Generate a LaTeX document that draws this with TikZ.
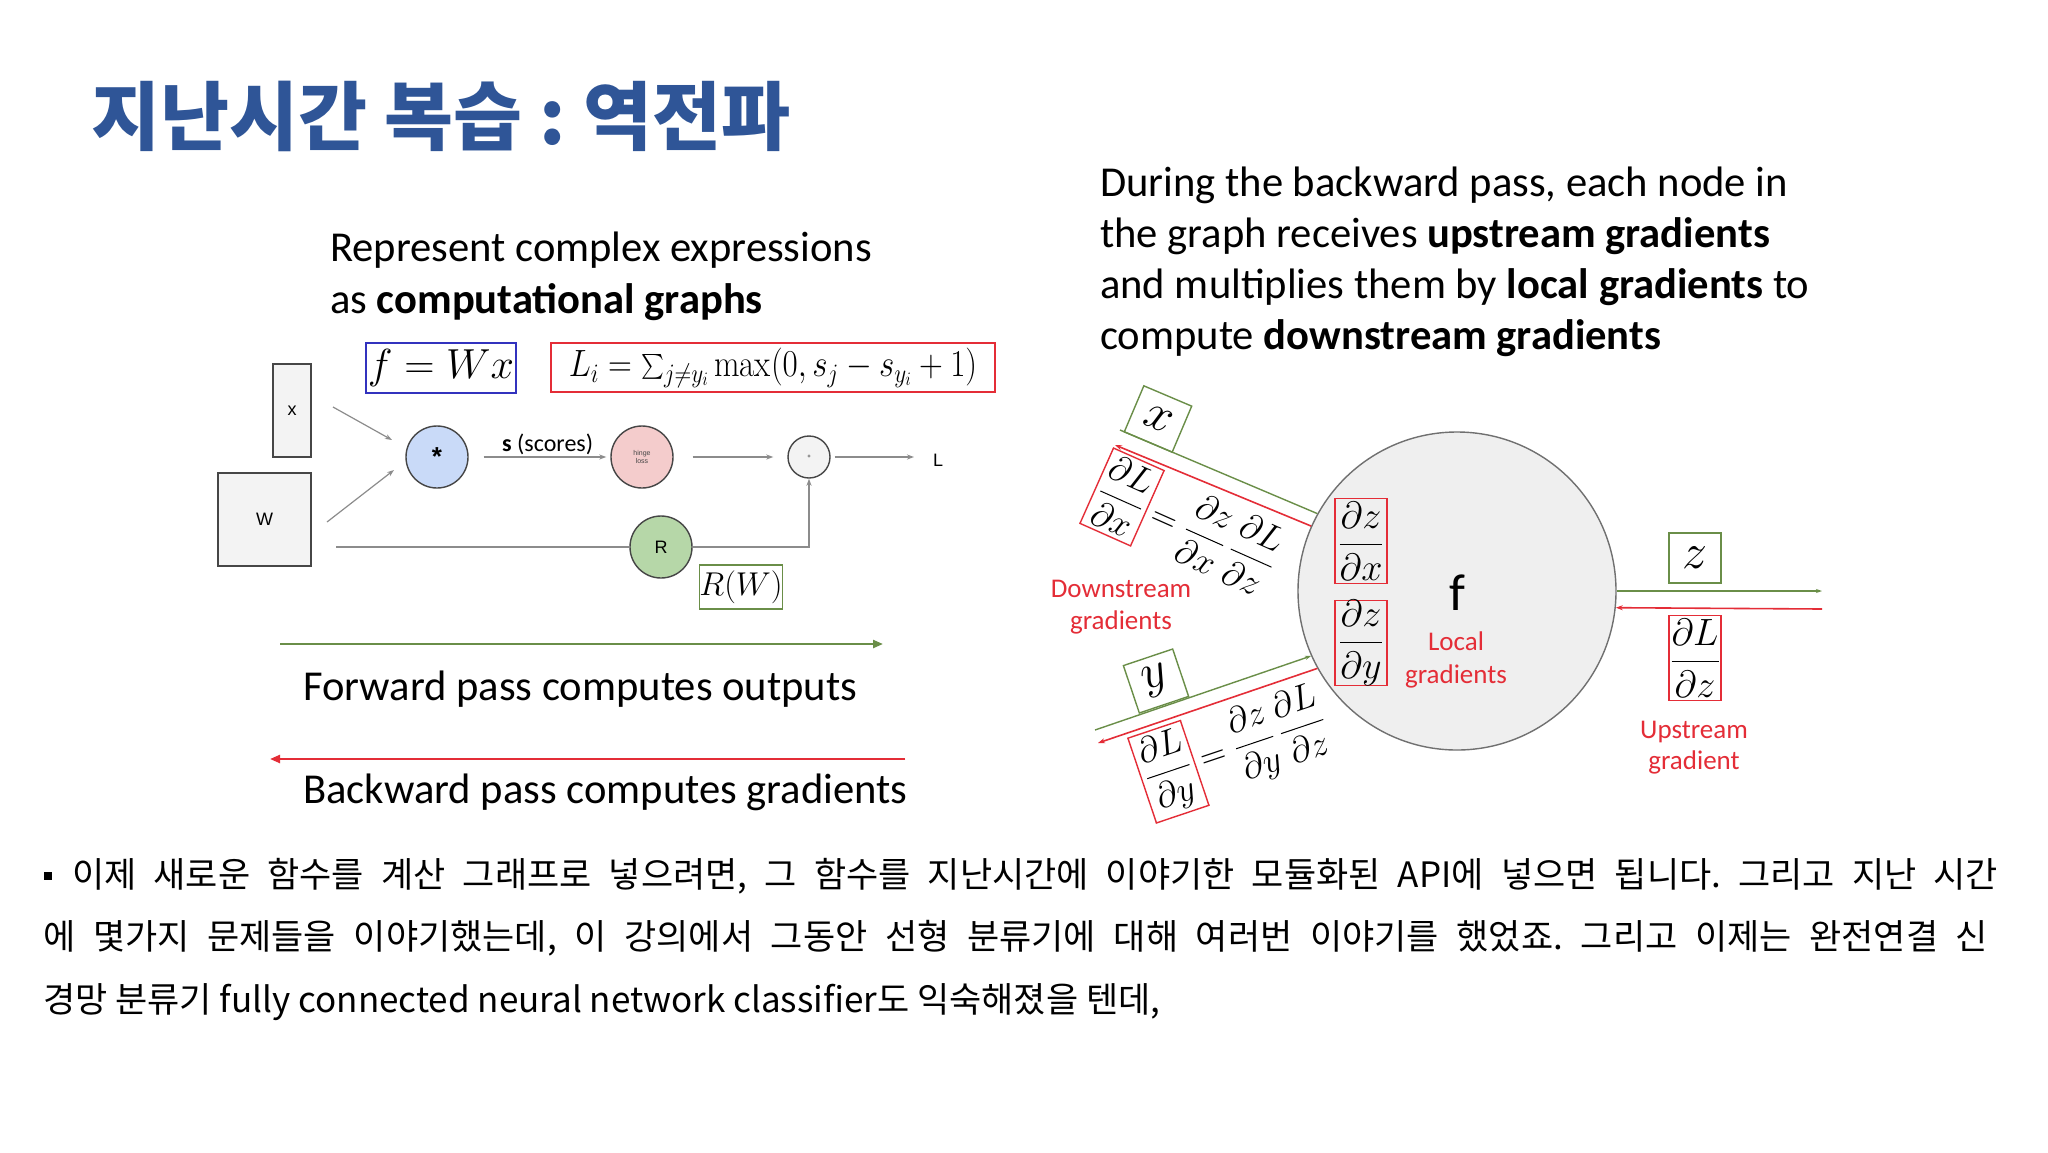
\RequirePackage{fix-cm}
\documentclass[tikz,border=0pt]{standalone}
\usepackage{amsmath}
\usepackage{graphicx}
\usepackage{fontspec}
\newfontfamily\carl{Carlito}
\newfontfamily\ars{Liberation Sans}
\newfontfamily\kr{Noto Sans CJK KR}
\usetikzlibrary{arrows.meta}
\definecolor{tblue}{RGB}{47,85,151}
\definecolor{mred}{RGB}{228,45,55}
\definecolor{mgreen}{RGB}{106,142,72}
\definecolor{fblue}{RGB}{50,50,190}
\definecolor{nodeblue}{RGB}{201,218,248}
\definecolor{nodepink}{RGB}{244,204,204}
\definecolor{nodegreen}{RGB}{182,215,168}
\definecolor{nodegray}{RGB}{243,243,243}
\definecolor{cgray}{RGB}{239,239,239}
\definecolor{lgray}{RGB}{140,140,140}
\definecolor{dgray}{RGB}{70,70,70}
\frenchspacing
\begin{document}
\begin{tikzpicture}[x=1pt,y=-1pt,
  txt/.style={inner sep=0pt,anchor=base west,font=\carl\fontsize{42.6}{50}\selectfont},
  redtxt/.style={inner sep=0pt,anchor=base,text=mred,font=\carl\fontsize{27}{32}\selectfont},
  inbox/.style={draw=dgray,fill=nodegray,line width=1.3pt,inner sep=0pt,font=\ars\fontsize{18}{20}\selectfont},
  opnode/.style={circle,line width=1.4pt,inner sep=0pt,minimum size=62pt},
  garr/.style={draw=lgray,line width=1.2pt,-{Stealth[length=7pt,width=5pt]}},
  gline/.style={draw=lgray,line width=1.2pt},
  mbox/.style={inner sep=0pt,line width=1.4pt,font=\fontsize{38}{44}\selectfont},
  letterbox/.style={inner sep=0pt,line width=1.4pt,draw=mgreen,minimum width=52pt,minimum height=50pt,font=\fontsize{50}{54}\selectfont},
  gthin/.style={draw=mgreen,line width=1.4pt,-{Stealth[length=6pt,width=4pt]}},
  rthin/.style={draw=mred,line width=1.6pt,-{Stealth[length=7pt,width=5pt]}},
  bigarr/.style={line width=2.2pt,-{Triangle[length=10pt,width=8pt]}},
  krline/.style={inner sep=0pt,anchor=base west,font=\kr\fontsize{35}{40}\selectfont}
]
\useasboundingbox (0,0) rectangle (2048,1152);
\fill[white] (0,0) rectangle (2048,1152);

% title
\node[anchor=west,inner sep=0pt,text=tblue,font=\kr\bfseries\fontsize{75}{85}\selectfont] (title) at (91,116) {지난시간 복습 : 역전파};

% ---------- left panel ----------
\node[txt] (rep1) at (330,261) {Represent complex expressions};
\node[txt] (rep2) at (330,313) {as \textbf{computational graphs}};

\node[draw=fblue,line width=1.6pt,minimum width=150pt,minimum height=50pt,inner sep=0pt,font=\fontsize{42}{46}\selectfont] (fwx) at (441,368) {$f=Wx$};
\node[draw=mred,line width=1.6pt,minimum width=444pt,minimum height=49pt,inner sep=0pt,font=\fontsize{38}{42}\selectfont] (loss) at (773,367.5) {\scalebox{0.87}[1]{$L_i=\sum_{j\neq y_i}\max(0,s_j-s_{y_i}+1)$}};

\node[inbox,minimum width=38pt,minimum height=93pt] (xbox) at (292,410.5) {x};
\node[inbox,minimum width=93pt,minimum height=93pt] (wbox) at (264.5,519.5) {W};

\node[opnode,draw=dgray,fill=nodeblue,font=\ars\bfseries\fontsize{26}{28}\selectfont] (mul) at (437,457) {*};
\node[opnode,draw=dgray,fill=nodepink,font=\ars\fontsize{7}{8}\selectfont,text=dgray,align=center] (hinge) at (642,457) {hinge\\loss};
\node[opnode,draw=dgray,fill=nodegray,minimum size=42pt,font=\ars\fontsize{6}{7}\selectfont] (plus) at (809,457) {+};
\node[opnode,draw=dgray,fill=nodegreen,font=\ars\fontsize{18}{20}\selectfont] (reg) at (661,547) {R};
\node[inner sep=0pt,font=\ars\fontsize{18}{20}\selectfont] (lout) at (938,460) {L};

\coordinate (xa) at (333,407);
\coordinate (xb) at (392,440);
\coordinate (wa) at (327,522);
\coordinate (wb) at (394,470);
\coordinate (wr) at (336,547);
\coordinate (lend) at (914,457);
\draw[garr] (xa) -- (xb);
\draw[garr] (wa) -- (wb);
\draw[garr,shorten <=15pt,shorten >=4pt] (mul) -- (hinge);
\node[inner sep=0pt,anchor=base west,font=\carl\fontsize{24}{28}\selectfont] (scores) at (502,451) {\textbf{s} (scores)};
\draw[garr,shorten <=19pt,shorten >=14pt] (hinge) -- (plus);
\draw[garr,shorten <=4pt] (plus) -- (lend);
\draw[gline] (wr) -- (reg);
\draw[garr] (reg.east) -| (plus.south);

\node[draw=mgreen,line width=1.4pt,minimum width=82pt,minimum height=44pt,inner sep=0pt,font=\fontsize{33}{36}\selectfont] (rw) at (741,587) {$R(W)$};

\coordinate (fa) at (280,644);
\coordinate (fb) at (883,644);
\coordinate (ba) at (905,759);
\coordinate (bb) at (270,759);
\draw[bigarr,draw=mgreen,fill=mgreen] (fa) -- (fb);
\draw[bigarr,draw=mred,fill=mred] (ba) -- (bb);
\node[txt] (fwd) at (303,700) {Forward pass computes outputs};
\node[txt] (bwd) at (303,803) {Backward pass computes gradients};

% ---------- right panel ----------
\node[txt] (d1) at (1100,196) {During the backward pass, each node in};
\node[txt] (d2) at (1100,247) {the graph receives \textbf{upstream gradients}};
\node[txt] (d3) at (1100,298) {and multiplies them by \textbf{local gradients} to};
\node[txt] (d4) at (1100,349) {compute \textbf{downstream gradients}};

\node[circle,draw=lgray!80!black,fill=cgray,line width=1.4pt,minimum size=318pt,inner sep=0pt] (fnode) at (1457,591) {};
\node[inner sep=0pt,anchor=base,font=\carl\fontsize{52}{56}\selectfont] (flabel) at (1457,610) {f};
\node[redtxt] (loc1) at (1456,650) {Local};
\node[redtxt] (loc2) at (1456,683) {gradients};

\node[mbox,draw=mred,minimum width=52pt,minimum height=85pt] (dzdx) at (1361,541) {$\dfrac{\partial z}{\partial x}$};
\node[mbox,draw=mred,minimum width=52pt,minimum height=85pt] (dzdy) at (1361,643) {$\dfrac{\partial z}{\partial y}$};

\node[letterbox] (zbox) at (1695,558) {$z$};
\node[mbox,draw=mred,minimum width=52pt,minimum height=85pt] (dldz) at (1695,658) {$\dfrac{\partial L}{\partial z}$};
\node[redtxt] (up1) at (1694,738) {Upstream};
\node[redtxt] (up2) at (1694,769) {gradient};

\coordinate (zend) at (1822,591);
\coordinate (ustart) at (1822,609);
\draw[gthin] (fnode.east) -- (zend);
\draw[rthin] (ustart) -- (fnode.-6.5);

% upper input x
\coordinate (gxs) at (1120,430);
\coordinate (rxs) at (1115,445);
\draw[gthin,-] (gxs) -- (fnode.151.5);
\draw[rthin] (fnode.156) -- (rxs);
\node[letterbox,rotate=-23] (xin) at (1158,419) {$x$};
\node[inner sep=0pt,rotate=-24,font=\fontsize{36}{42}\selectfont] (eqx) at (1185,525)
  {\setlength{\fboxrule}{1.4pt}\setlength{\fboxsep}{3.5pt}\fcolorbox{mred}{white}{$\dfrac{\partial L}{\partial x}$}$\,=\dfrac{\partial z}{\partial x}\,\dfrac{\partial L}{\partial z}$};

% lower input y
\coordinate (gys) at (1095,730);
\coordinate (rys) at (1098,743);
\draw[gthin] (gys) -- (fnode.204.5);
\draw[rthin] (fnode.209) -- (rys);
\node[letterbox,rotate=18.6] (yin) at (1156,681) {$y$};
\node[inner sep=0pt,rotate=18.6,font=\fontsize{36}{42}\selectfont] (eqy) at (1233,750)
  {\setlength{\fboxrule}{1.4pt}\setlength{\fboxsep}{3.5pt}\fcolorbox{mred}{white}{$\dfrac{\partial L}{\partial y}$}$\,=\dfrac{\partial z}{\partial y}\,\dfrac{\partial L}{\partial z}$};

\node[redtxt] (ds1) at (1121,597) {Downstream};
\node[redtxt] (ds2) at (1121,629) {gradients};

% ---------- bottom text ----------
\node[fill=black,minimum size=8pt,inner sep=0pt] (bul) at (48,876) {};
\node[krline] (k1) at (72,887) {\makebox[1926pt][s]{이제 새로운 함수를 계산 그래프로 넣으려면, 그 함수를 지난시간에 이야기한 모듈화된 API에 넣으면 됩니다. 그리고 지난 시간}};
\node[krline] (k2) at (43,949.5) {\makebox[1945pt][s]{에 몇가지 문제들을 이야기했는데, 이 강의에서 그동안 선형 분류기에 대해 여러번 이야기를 했었죠. 그리고 이제는 완전연결 신}};
\node[krline] (k3) at (43,1012) {경망 분류기 fully connected neural network classifier도 익숙해졌을 텐데,};
\end{tikzpicture}
\end{document}
